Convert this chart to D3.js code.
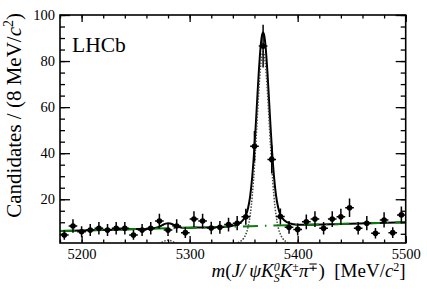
<!DOCTYPE html>
<html>
<head>
<meta charset="utf-8">
<script src="https://cdn.jsdelivr.net/npm/d3@7"></script>
<style>
  body { margin: 0; background: #fff; }
  svg { display: block; font-family: "Liberation Serif", "Times New Roman", serif; }
  svg text { font-family: "Liberation Serif", "Times New Roman", serif; }
</style>
</head>
<body>
<svg id="chart" width="427" height="290"></svg>
<script>
// Values (8 MeV bins)
const binCenters = [5184, 5192, 5200, 5208, 5216, 5224, 5232, 5240, 5248, 5256,
                    5264, 5272, 5280, 5288, 5296, 5304, 5312, 5320, 5328, 5336,
                    5344, 5352, 5360, 5368, 5376, 5384, 5392, 5400, 5408, 5416,
                    5424, 5432, 5440, 5448, 5456, 5464, 5472, 5480, 5488, 5496];
const counts = [4.5, 8.4, 5.9, 6.6, 7.4, 6.6, 7.4, 7.4, 4.5, 6.6,
                7.4, 10.5, 6.6, 8.4, 5.5, 11.4, 10.5, 7.5, 7.8, 9.0,
                9.6, 12.4, 43.0, 86.5, 37.3, 12.5, 7.8, 6.9, 10.2, 11.4,
                7.4, 11.4, 12.4, 16.3, 7.4, 9.6, 5.2, 11.0, 5.5, 13.2];
const errors = [2.1, 2.9, 2.4, 2.6, 2.7, 2.6, 2.7, 2.7, 2.1, 2.6,
                2.7, 3.2, 2.6, 2.9, 2.3, 3.4, 3.2, 2.7, 2.8, 3.0,
                3.1, 3.5, 6.6, 9.3, 6.1, 3.5, 2.8, 2.6, 3.2, 3.4,
                2.7, 3.4, 3.5, 4.0, 2.7, 3.1, 2.3, 3.3, 2.3, 3.6];
const binHalfWidth = 4;

// fit curves
const fitMass = [5180, 5220, 5250, 5264, 5266, 5268, 5270, 5272, 5274, 5276,
                 5278, 5280, 5282, 5284, 5286, 5288, 5290, 5292, 5294, 5296,
                 5310, 5328, 5333, 5338, 5342, 5346, 5350, 5352, 5354, 5356,
                 5358, 5359, 5360, 5361, 5362, 5363, 5364, 5365, 5366, 5367,
                 5368, 5369, 5370, 5371, 5372, 5373, 5374, 5375, 5376, 5377,
                 5378, 5380, 5382, 5384, 5386, 5390, 5394, 5398, 5403, 5408,
                 5440, 5500];
const signalFit = [0, 0, 0, 0.04, 0.10, 0.22, 0.45, 0.79, 1.24, 1.70,
                   2.06, 2.20, 2.06, 1.70, 1.24, 0.79, 0.45, 0.22, 0.10, 0.04,
                   0, 0.013, 0.064, 0.24, 0.62, 1.39, 3.07, 4.75, 7.74, 13.0,
                   21.7, 27.5, 34.4, 42.1, 50.3, 58.7, 66.7, 73.7, 79.3, 82.8,
                   84.0, 82.8, 79.3, 73.7, 66.7, 58.7, 50.3, 42.1, 34.4, 27.5,
                   21.7, 13.0, 7.74, 4.75, 3.07, 1.39, 0.62, 0.24, 0.064, 0.013,
                   0, 0];
const totalFit = [6.20, 6.68, 7.03, 7.24, 7.32, 7.47, 7.72, 8.08, 8.56, 9.04,
                  9.42, 9.59, 9.47, 9.14, 8.70, 8.27, 7.96, 7.75, 7.65, 7.62,
                  7.74, 7.97, 8.08, 8.32, 8.74, 9.56, 11.29, 12.99, 16.01, 21.29,
                  30.01, 35.83, 42.74, 50.45, 58.66, 67.07, 75.09, 82.10, 87.71, 91.22,
                  92.43, 91.24, 87.76, 82.17, 75.18, 67.19, 58.80, 50.62, 42.93, 36.04,
                  30.25, 21.58, 16.34, 13.37, 11.72, 10.08, 9.36, 9.03, 8.91, 8.92,
                  9.29, 10.0];
const bkgMass = [5180, 5500];
const bkgFit = [6.2, 10.0];

const xTickLabels = [5200, 5300, 5400, 5500];
const yTickLabels = [20, 40, 60, 80, 100];

const FRAME = { left: 60, top: 15, right: 405.7, bottom: 243 };
const TICKS = { xMajor: 7, xMinor: 3.5, yMajor: 10, yMinor: 5 };
const SERIF = '"Liberation Serif", "Times New Roman", serif';

const svg = d3.select("#chart");

const x = d3.scaleLinear().domain([5180, 5500]).range([FRAME.left, FRAME.right]);
const y = d3.scaleLinear().domain([1, 100]).range([FRAME.bottom, FRAME.top]);

svg.append("defs").append("clipPath").attr("id", "frame-clip")
    .append("rect")
    .attr("x", FRAME.left).attr("y", FRAME.top)
    .attr("width", FRAME.right - FRAME.left)
    .attr("height", FRAME.bottom - FRAME.top);

const plot = svg.append("g").attr("clip-path", "url(#frame-clip)");

const fitLine = d3.line()
    .x(d => x(d[0]))
    .y(d => y(d[1]))
    .curve(d3.curveMonotoneX);

// total fit (solid black)
plot.append("path")
    .attr("d", fitLine(d3.zip(fitMass, totalFit)))
    .attr("fill", "none")
    .attr("stroke", "#000")
    .attr("stroke-width", 2);

// background (green dash-dot), drawn over the total
plot.append("path")
    .attr("d", fitLine(d3.zip(bkgMass, bkgFit)))
    .attr("fill", "none")
    .attr("stroke", "#0a7d0a")
    .attr("stroke-width", 2)
    .attr("stroke-dasharray", "15,7,1.5,7");

// signal components (dotted)
plot.append("path")
    .attr("d", fitLine(d3.zip(fitMass, signalFit)))
    .attr("fill", "none")
    .attr("stroke", "#444")
    .attr("stroke-width", 1.5)
    .attr("stroke-dasharray", "1.5,1.5");

// data points with error bars
const points = plot.append("g")
    .selectAll("g.pt")
    .data(d3.zip(binCenters, counts, errors))
    .join("g")
    .attr("class", "pt");

points.append("line")
    .attr("x1", d => x(d[0])).attr("x2", d => x(d[0]))
    .attr("y1", d => y(d[1] - d[2])).attr("y2", d => y(d[1] + d[2]))
    .attr("stroke", "#000").attr("stroke-width", 1.5);

points.append("line")
    .attr("x1", d => x(d[0] - binHalfWidth)).attr("x2", d => x(d[0] + binHalfWidth))
    .attr("y1", d => y(d[1])).attr("y2", d => y(d[1]))
    .attr("stroke", "#000").attr("stroke-width", 1.5);

points.append("circle")
    .attr("cx", d => x(d[0]))
    .attr("cy", d => y(d[1]))
    .attr("r", 2.8)
    .attr("fill", "#000");

// ─── AXES ───
function styleAxis(g) {
    g.attr("font-family", null).attr("font-size", null);
    g.select(".domain").remove();
    g.selectAll(".tick line").attr("stroke", "#000").attr("stroke-width", 1.3);
    g.selectAll(".tick text")
        .attr("fill", "#000")
        .style("font-size", "14.5px")
        .style("font-family", SERIF);
}

const fmt = d3.format("d");

// minor ticks (all four sides)
svg.append("g").attr("transform", `translate(0,${FRAME.bottom})`)
    .call(d3.axisBottom(x).ticks(16).tickSize(-TICKS.xMinor).tickFormat(""))
    .call(styleAxis);
svg.append("g").attr("transform", `translate(0,${FRAME.top})`)
    .call(d3.axisTop(x).ticks(16).tickSize(-TICKS.xMinor).tickFormat(""))
    .call(styleAxis);
svg.append("g").attr("transform", `translate(${FRAME.left},0)`)
    .call(d3.axisLeft(y).ticks(20).tickSize(-TICKS.yMinor).tickFormat(""))
    .call(styleAxis);
svg.append("g").attr("transform", `translate(${FRAME.right},0)`)
    .call(d3.axisRight(y).ticks(20).tickSize(-TICKS.yMinor).tickFormat(""))
    .call(styleAxis);

// major ticks with labels
svg.append("g").attr("transform", `translate(0,${FRAME.bottom})`)
    .call(d3.axisBottom(x).tickValues(xTickLabels).tickSize(-TICKS.xMajor).tickFormat(fmt))
    .call(styleAxis)
    .selectAll(".tick text").attr("y", 6);
svg.append("g").attr("transform", `translate(0,${FRAME.top})`)
    .call(d3.axisTop(x).tickValues(xTickLabels).tickSize(-TICKS.xMajor).tickFormat(""))
    .call(styleAxis);
svg.append("g").attr("transform", `translate(${FRAME.left},0)`)
    .call(d3.axisLeft(y).tickValues(yTickLabels).tickSize(-TICKS.yMajor).tickFormat(fmt))
    .call(styleAxis)
    .selectAll(".tick text").attr("x", -5);
svg.append("g").attr("transform", `translate(${FRAME.right},0)`)
    .call(d3.axisRight(y).tickValues(yTickLabels).tickSize(-TICKS.yMajor).tickFormat(""))
    .call(styleAxis);

// frame
svg.append("rect")
    .attr("x", FRAME.left).attr("y", FRAME.top)
    .attr("width", FRAME.right - FRAME.left)
    .attr("height", FRAME.bottom - FRAME.top)
    .attr("fill", "none")
    .attr("stroke", "#000")
    .attr("stroke-width", 1.6);

// ─── LABELS ───
function richText(sel, parts) {
    parts.forEach(p => {
        const t = sel.append("tspan").text(p.t);
        if (p.i) t.attr("font-style", "italic");
        if (p.s) t.attr("font-size", p.s);
        if (p.dx) t.attr("dx", p.dx);
        if (p.dy) t.attr("dy", p.dy);
    });
}

svg.append("text")
    .attr("x", 72).attr("y", 51.5)
    .attr("font-size", 21.5)
    .text("LHCb");

const xTitle = svg.append("text")
    .attr("x", FRAME.right).attr("y", 277)
    .attr("text-anchor", "end")
    .attr("font-size", 19);
richText(xTitle, [
    { t: "m", i: 1 }, { t: "(" }, { t: "J/\u2009\u03c8K", i: 1 },
    { t: "0", i: 1, s: 12, dy: -6.5 },
    { t: "S", i: 1, s: 12, dx: -6, dy: 11.5 },
    { t: "K", i: 1, dy: -5 },
    { t: "\u00b1", s: 12, dy: -6.5 },
    { t: "\u03c0", i: 1, dy: 6.5 },
    { t: "\u2213", s: 12, dy: -6.5 },
    { t: ")\u00a0\u00a0[MeV/", dy: 6.5 },
    { t: "c", i: 1 },
    { t: "2", s: 12, dy: -6.5 },
    { t: "]", dy: 6.5 }
]);

const yTitle = svg.append("text")
    .attr("transform", "translate(21,13) rotate(-90)")
    .attr("text-anchor", "end")
    .attr("font-size", 21);
richText(yTitle, [
    { t: "Candidates / (8 MeV/" },
    { t: "c", i: 1 },
    { t: "2", s: 14, dy: -8 },
    { t: ")", dy: 8 }
]);
</script>
</body>
</html>
